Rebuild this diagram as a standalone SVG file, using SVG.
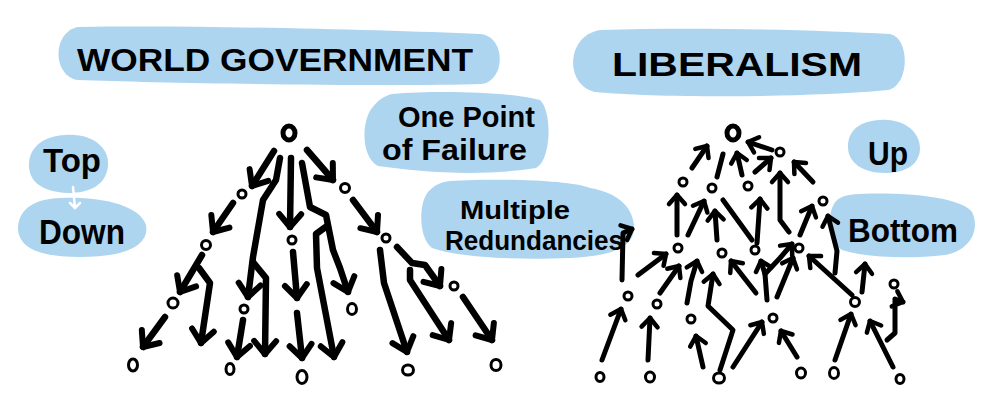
<svg xmlns="http://www.w3.org/2000/svg" width="1000" height="417" viewBox="0 0 1000 417">
<style>
.blob{fill:#aed5f0}
.lbl{font-family:"Liberation Sans",Arial,sans-serif;font-weight:bold;fill:#000}
.a1{fill:none;stroke:#000;stroke-width:6.5;stroke-linecap:round;stroke-linejoin:round;marker-end:url(#ah1)}
.a2{fill:none;stroke:#000;stroke-width:5;stroke-linecap:round;stroke-linejoin:round;marker-end:url(#ah2)}
.ln{fill:none;stroke:#000;stroke-width:5;stroke-linecap:round;stroke-linejoin:round}
.nd{fill:#fff;stroke:#000;stroke-width:3}
.big{fill:#fff;stroke:#000;stroke-width:5}
.wh{fill:none;stroke:#fff;stroke-width:2.5;stroke-linecap:round}
</style>
<defs>
<marker id="ah1" viewBox="-18 -15 22 30" markerWidth="22" markerHeight="30" refX="0" refY="0" orient="auto" markerUnits="userSpaceOnUse"><path d="M -13 -11 L 0 0 L -13 11" fill="none" stroke="#000" stroke-width="6" stroke-linecap="round" stroke-linejoin="round"/></marker>
<marker id="ah2" viewBox="-14 -12 18 24" markerWidth="18" markerHeight="24" refX="0" refY="0" orient="auto" markerUnits="userSpaceOnUse"><path d="M -9 -8 L 0 0 L -9 8" fill="none" stroke="#000" stroke-width="4.5" stroke-linecap="round" stroke-linejoin="round"/></marker>
</defs>
<rect width="1000" height="417" fill="#fff"/>

<g id="title-world-government">
<path class="blob" d="M 78 27 C 200 25 380 30 480 34 C 506 36 506 80 482 84 C 380 87 160 83 78 80 C 52 76 52 32 78 27 Z"/>
<text class="lbl" x="77" y="71" font-size="32" textLength="396" lengthAdjust="spacingAndGlyphs">WORLD GOVERNMENT</text>
</g>
<g id="title-liberalism">
<path class="blob" d="M 600 30 C 700 27 820 30 890 34 C 910 38 910 85 888 90 C 800 98 660 98 595 92 C 565 86 565 36 600 30 Z"/>
<text class="lbl" x="612" y="76" font-size="34" textLength="250" lengthAdjust="spacingAndGlyphs">LIBERALISM</text>
</g>
<g id="label-top">
<path class="blob" d="M 65 135 C 95 133 110 150 108 166 C 106 185 90 193 68 193 C 40 192 28 180 29 163 C 30 146 45 136 65 135 Z"/>
<text class="lbl" x="43" y="172" font-size="34" textLength="58" lengthAdjust="spacingAndGlyphs">Top</text>
</g>
<g id="label-down">
<path class="blob" d="M 60 198 C 100 196 140 205 146 225 C 150 248 120 257 80 257 C 40 257 18 248 18 228 C 19 208 35 199 60 198 Z"/>
<path class="wh" d="M 73 187 L 75 208 M 70 203 L 75 208 L 80 203"/>
<text class="lbl" x="39" y="244" font-size="35" textLength="86" lengthAdjust="spacingAndGlyphs">Down</text>
</g>
<g id="label-one-point">
<path class="blob" d="M 392 94 C 440 90 510 92 540 100 C 552 110 552 160 536 168 C 480 177 420 172 378 166 C 360 156 362 120 372 108 C 378 100 384 96 392 94 Z"/>
<text class="lbl" x="398" y="127" font-size="30" textLength="137" lengthAdjust="spacingAndGlyphs">One Point</text>
<text class="lbl" x="382" y="160" font-size="30" textLength="145" lengthAdjust="spacingAndGlyphs">of Failure</text>
</g>
<g id="label-multiple">
<path class="blob" d="M 450 181 C 500 178 570 180 590 188 C 615 192 632 205 634 225 C 636 248 610 256 570 258 C 520 260 460 258 432 248 C 418 238 418 200 430 190 C 436 184 442 182 450 181 Z"/>
<text class="lbl" x="460" y="219" font-size="26" textLength="110" lengthAdjust="spacingAndGlyphs">Multiple</text>
<text class="lbl" x="445" y="250" font-size="27" textLength="178" lengthAdjust="spacingAndGlyphs">Redundancies</text>
</g>
<g id="label-up">
<path class="blob" d="M 880 120 C 905 118 920 133 920 148 C 920 165 905 173 885 173 C 862 173 848 162 848 147 C 848 130 860 121 880 120 Z"/>
<text class="lbl" x="868" y="165" font-size="34" textLength="40" lengthAdjust="spacingAndGlyphs">Up</text>
</g>
<g id="label-bottom">
<path class="blob" d="M 860 194 C 900 192 960 196 972 212 C 980 228 972 250 945 255 C 910 259 868 258 842 250 C 826 240 826 205 840 198 C 846 195 852 194 860 194 Z"/>
<text class="lbl" x="848" y="242" font-size="34" textLength="110" lengthAdjust="spacingAndGlyphs">Bottom</text>
</g>

<g id="connectors">
<path class="a1" d="M 274 151 L 252 186"/>
<path class="a1" d="M 280 158 L 276 180 L 263 200 L 253 257 L 248 297"/>
<path class="a1" d="M 291 158 L 290 227"/>
<path class="a1" d="M 302 163 L 310 207 L 326 215 L 333 250 L 340 268 L 348 292"/>
<path class="a1" d="M 307 150 L 333 180"/>
<path class="a1" d="M 233 203 L 213 232"/>
<path class="a1" d="M 202 255 L 180 292"/>
<path class="a1" d="M 199 268 L 210 283 L 201 343"/>
<path class="a1" d="M 165 317 L 143 347"/>
<path class="a1" d="M 253 262 L 266 278 L 265 354"/>
<path class="a1" d="M 243 320 L 237 357"/>
<path class="a1" d="M 293 252 L 297 298"/>
<path class="a1" d="M 297 313 L 302 358"/>
<path class="a1" d="M 327 226 L 316 234 L 317 268 L 334 357"/>
<path class="a1" d="M 353 200 L 377 232"/>
<path class="a1" d="M 380 250 L 384 283 L 407 352"/>
<path class="a1" d="M 397 247 L 412 263 L 425 265 L 440 286"/>
<path class="a1" d="M 410 270 L 410 280 L 449 340"/>
<path class="a1" d="M 463 297 L 492 340"/>
<path class="a2" d="M 692 168 L 707 146"/>
<path class="ln" d="M 717 177 L 723 154"/>
<path class="a2" d="M 742 175 L 737 153"/>
<path class="a2" d="M 772 150 L 748 142"/>
<path class="a2" d="M 755 172 L 771 158"/>
<path class="a2" d="M 813 182 L 794 162"/>
<path class="a2" d="M 789 232 L 780 220 L 780 173"/>
<path class="a2" d="M 677 235 L 677 195"/>
<path class="a2" d="M 688 235 L 704 201"/>
<path class="a2" d="M 717 240 L 715 211"/>
<path class="ln" d="M 752 240 L 723 200"/>
<path class="a2" d="M 757 243 L 760 199"/>
<path class="a2" d="M 800 235 L 812 206"/>
<path class="a2" d="M 638 275 L 666 254"/>
<path class="a2" d="M 622 280 L 623 233 L 632 229"/>
<path class="a2" d="M 660 293 L 679 266"/>
<path class="a2" d="M 687 303 L 691 281 L 697 261"/>
<path class="a2" d="M 720 370 L 733 330 L 708 306 L 713 274"/>
<path class="a2" d="M 756 293 L 731 261"/>
<path class="a2" d="M 767 300 L 765 274 L 761 261"/>
<path class="a2" d="M 765 274 L 780 258 L 792 244"/>
<path class="a2" d="M 777 297 L 793 258"/>
<path class="a2" d="M 852 295 L 809 256"/>
<path class="a2" d="M 835 273 L 837 251 L 828 216"/>
<path class="a2" d="M 862 292 L 865 264"/>
<path class="a2" d="M 887 340 L 895 333 L 895 299 L 903 302"/>
<path class="a2" d="M 893 367 L 870 321"/>
<path class="a2" d="M 835 360 L 851 314"/>
<path class="a2" d="M 797 357 L 781 331"/>
<path class="a2" d="M 733 367 L 762 322"/>
<path class="a2" d="M 703 367 L 696 336"/>
<path class="a2" d="M 648 360 L 650 318"/>
<path class="a2" d="M 602 360 L 621 309"/>
</g>

<g id="node-left-root"><ellipse class="big" cx="289" cy="133" rx="6" ry="7"/></g>
<g id="node-left-a"><circle class="nd" cx="242" cy="194" r="4"/></g>
<g id="node-left-b"><circle class="nd" cx="206" cy="245" r="4.5"/></g>
<g id="node-left-c"><circle class="nd" cx="173" cy="303" r="5"/></g>
<g id="node-left-d"><circle class="nd" cx="244" cy="309" r="4"/></g>
<g id="node-left-e"><circle class="nd" cx="292" cy="240" r="4"/></g>
<g id="node-left-f"><ellipse class="nd" cx="352" cy="309" rx="4.5" ry="5.5"/></g>
<g id="node-left-g"><circle class="nd" cx="345" cy="188" r="4.5"/></g>
<g id="node-left-h"><circle class="nd" cx="386" cy="238" r="4"/></g>
<g id="node-left-i"><circle class="nd" cx="454" cy="286" r="4"/></g>
<g id="node-left-leaf1"><ellipse class="nd" cx="133" cy="365" rx="4.5" ry="6"/></g>
<g id="node-left-leaf2"><ellipse class="nd" cx="230" cy="369" rx="4" ry="5.5"/></g>
<g id="node-left-leaf3"><ellipse class="nd" cx="302" cy="377" rx="5" ry="6.5"/></g>
<g id="node-left-leaf4"><ellipse class="nd" cx="408" cy="370" rx="5.5" ry="5"/></g>
<g id="node-left-leaf5"><ellipse class="nd" cx="496" cy="365" rx="5" ry="5.5"/></g>

<g id="node-right-root"><ellipse class="big" cx="733" cy="133" rx="6" ry="7"/></g>
<g id="node-right-1"><circle class="nd" cx="780" cy="152" r="4"/></g>
<g id="node-right-2"><circle class="nd" cx="683" cy="182" r="4"/></g>
<g id="node-right-3"><circle class="nd" cx="712" cy="188" r="4"/></g>
<g id="node-right-4"><circle class="nd" cx="748" cy="186" r="4"/></g>
<g id="node-right-5"><circle class="nd" cx="823" cy="201" r="4"/></g>
<g id="node-right-6"><circle class="nd" cx="678" cy="248" r="4"/></g>
<g id="node-right-7"><circle class="nd" cx="722" cy="253" r="4"/></g>
<g id="node-right-8"><circle class="nd" cx="755" cy="250" r="4"/></g>
<g id="node-right-9"><circle class="nd" cx="799" cy="248" r="4"/></g>
<g id="node-right-10"><circle class="nd" cx="628" cy="296" r="4"/></g>
<g id="node-right-11"><circle class="nd" cx="657" cy="304" r="4"/></g>
<g id="node-right-12"><circle class="nd" cx="691" cy="319" r="4"/></g>
<g id="node-right-13"><circle class="nd" cx="773" cy="318" r="4"/></g>
<g id="node-right-14"><circle class="nd" cx="855" cy="302" r="4.5"/></g>
<g id="node-right-15"><circle class="nd" cx="894" cy="284" r="4"/></g>
<g id="node-right-leaf1"><ellipse class="nd" cx="600" cy="377" rx="4" ry="4.5"/></g>
<g id="node-right-leaf2"><ellipse class="nd" cx="650" cy="377" rx="4.5" ry="5"/></g>
<g id="node-right-leaf3"><ellipse class="nd" cx="719" cy="378" rx="5.5" ry="5"/></g>
<g id="node-right-leaf4"><ellipse class="nd" cx="801" cy="373" rx="4.5" ry="5"/></g>
<g id="node-right-leaf5"><ellipse class="nd" cx="834" cy="373" rx="4.5" ry="5.5"/></g>
<g id="node-right-leaf6"><ellipse class="nd" cx="900" cy="379" rx="4" ry="4.5"/></g>
</svg>
